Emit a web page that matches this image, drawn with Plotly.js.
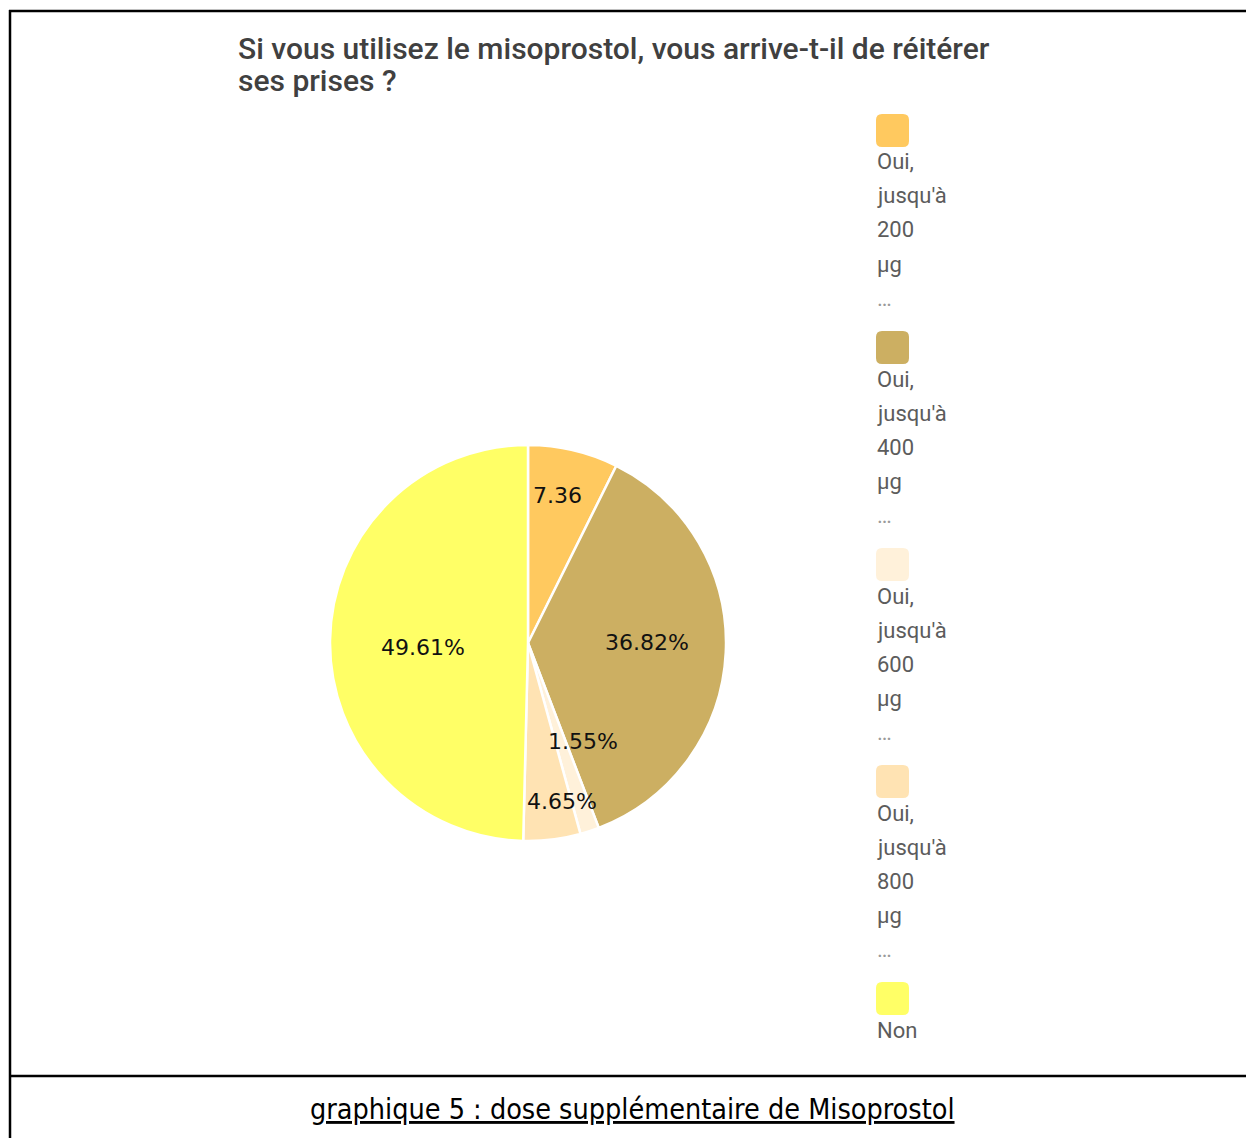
<!DOCTYPE html>
<html>
<head>
<meta charset="utf-8">
<script src="https://cdn.plot.ly/plotly-3.0.1.min.js"></script>
<style>html,body{margin:0;padding:0;background:#fff;}#chart{width:1246px;height:1138px;}</style>
</head>
<body>
<div id="chart"></div>
<script>
// ---- data ----
const categories = ["Oui, jusqu'à 200 µg ...", "Oui, jusqu'à 400 µg ...", "Oui, jusqu'à 600 µg ...", "Oui, jusqu'à 800 µg ...", "Non"];
const values = [7.36, 36.82, 1.55, 4.65, 49.61];
const sliceTexts = ["7.36", "36.82%", "1.55%", "4.65%", "49.61%"];
const colors = ["#FFC95F", "#CCAF62", "#FFF1DA", "#FFE3B3", "#FFFF66"];
const titleLines = ["Si vous utilisez le misoprostol, vous arrive-t-il de réitérer", "ses prises ?"];
const captionText = "graphique 5 : dose supplémentaire de Misoprostol";

// ---- label placement style (fraction of radius, angular nudge in degrees) ----
const labelRadius = [0.76, 0.60, 0.57, 0.82, 0.53];
const labelNudge = [-2, -3, -11, -5, -3];

// ---- layout helpers (page pixels -> paper) ----
const W = 1246, H = 1138;
const px = v => v / W;
const py = v => 1 - v / H;

const cx = 528, cy = 643, R = 198;

const shapes = [
  {type:'line', xref:'paper', yref:'paper', x0:px(9), x1:px(1246), y0:py(11), y1:py(11), line:{color:'#000', width:2.5}},
  {type:'line', xref:'paper', yref:'paper', x0:px(10), x1:px(10), y0:py(10), y1:py(1138), line:{color:'#000', width:2.5}},
  {type:'line', xref:'paper', yref:'paper', x0:px(10), x1:px(1246), y0:py(1076), y1:py(1076), line:{color:'#000', width:2.5}}
];
const annotations = [];

// title lines
titleLines.forEach((t, i) => {
  annotations.push({xref:'paper', yref:'paper', x:px(236), y:py(48 + i * 32), xanchor:'left', yanchor:'middle',
    showarrow:false, text:t, font:{family:'Roboto', size:30, color:'#404040', weight:500}});
});

// slice labels positioned from the slice angles
const total = values.reduce((a, b) => a + b, 0);
let cum = 0;
values.forEach((v, i) => {
  const mid = (cum + v / 2) / total * 360 + labelNudge[i];
  cum += v;
  const a = mid * Math.PI / 180;
  const r = labelRadius[i] * R;
  annotations.push({xref:'paper', yref:'paper', x:px(cx + r * Math.sin(a)), y:py(cy - r * Math.cos(a)),
    xanchor:'center', yanchor:'middle', showarrow:false, text:sliceTexts[i],
    font:{family:'DejaVu Sans', size:22, color:'#111'}});
});

// legend built from categories/colors
const legX = 876, legTop = 114, legStep = 217, sw = 33, rr = 6;
categories.forEach((cat, i) => {
  const t = legTop + i * legStep;
  const x0 = legX, x1 = legX + sw, y0 = t, y1 = t + sw;
  const p = [
    `M ${px(x0+rr)} ${py(y0)}`, `L ${px(x1-rr)} ${py(y0)}`, `Q ${px(x1)} ${py(y0)} ${px(x1)} ${py(y0+rr)}`,
    `L ${px(x1)} ${py(y1-rr)}`, `Q ${px(x1)} ${py(y1)} ${px(x1-rr)} ${py(y1)}`,
    `L ${px(x0+rr)} ${py(y1)}`, `Q ${px(x0)} ${py(y1)} ${px(x0)} ${py(y1-rr)}`,
    `L ${px(x0)} ${py(y0+rr)}`, `Q ${px(x0)} ${py(y0)} ${px(x0+rr)} ${py(y0)}`, 'Z'
  ].join(' ');
  shapes.push({type:'path', xref:'paper', yref:'paper', path:p, fillcolor:colors[i], line:{width:0}});
  const words = cat.split(' ');
  words.forEach((w, j) => {
    const isDots = w === '...';
    annotations.push({
      xref:'paper', yref:'paper', x:px(legX - 1), y:py(t + sw + 15 + j * 34),
      xanchor:'left', yanchor:'middle', showarrow:false, text: isDots ? '…' : w,
      font:{family:'Roboto', size: 22, color: isDots ? '#9a9a9a' : '#5c5c5c'}
    });
  });
});

annotations.push({
  xref:'paper', yref:'paper', x:px(632), y:py(1109), xanchor:'center', yanchor:'middle', showarrow:false,
  text:'<u>' + captionText + '</u>', font:{family:'DejaVu Sans Condensed', size:28.5, color:'#000'}
});

const trace = {
  type:'pie', values: values, labels: categories,
  textinfo:'none',
  sort:false, direction:'clockwise', rotation:0,
  marker:{colors: colors, line:{color:'#ffffff', width:2.5}},
  hoverinfo:'label+percent',
  domain:{x:[px(cx-R), px(cx+R)], y:[py(cy+R), py(cy-R)]}
};

const layout = {
  width: W, height: H, margin:{l:0, r:0, t:0, b:0},
  paper_bgcolor:'#fff', plot_bgcolor:'#fff', showlegend:false,
  shapes: shapes, annotations: annotations
};

Plotly.newPlot('chart', [trace], layout, {displayModeBar:false, staticPlot:true});
</script>
</body>
</html>
